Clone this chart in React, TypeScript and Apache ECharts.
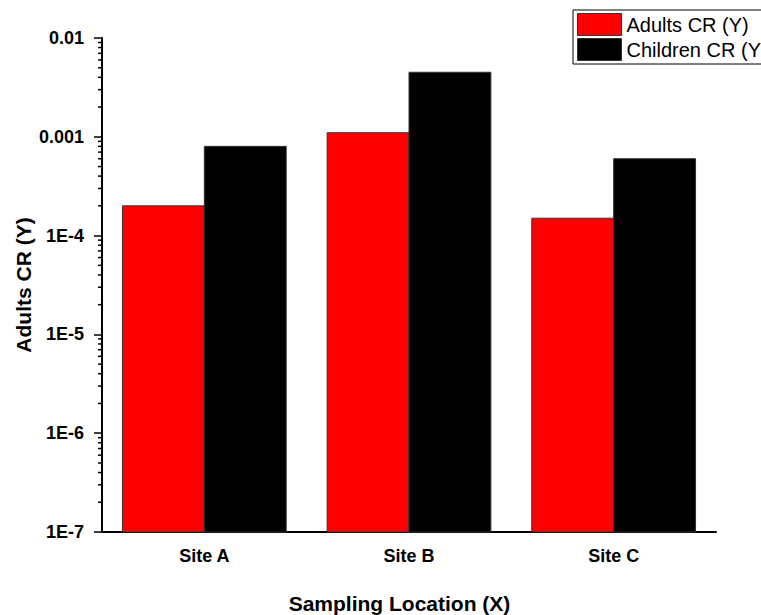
import React, { useEffect, useRef } from "react";
import * as echarts from "echarts";

const categories = ["Site A", "Site B", "Site C"];
const adultsCR = [2.0e-4, 1.1e-3, 1.5e-4];
const childrenCR = [8.0e-4, 4.5e-3, 6.0e-4];
const yMin = 1e-7;
const yMax = 0.01;
const yTickDecades = [-7, -6, -5, -4, -3];
const minorMultipliers = [2, 3, 4, 5, 6, 7, 8, 9];

const FONT = "'Liberation Sans', Arial, sans-serif";

function barSeries(name: string, values: number[], color: string, slot: number) {
  return {
    name,
    type: "custom",
    clip: false,
    itemStyle: { color, borderColor: "#333", borderWidth: 1 },
    data: values.map((v, i) => [i, v]),
    encode: { x: 0, y: 1 },
    renderItem: (params: any, api: any) => {
      const i = api.value(0);
      const v = api.value(1);
      const top = api.coord([i, v]);
      const base = api.coord([i, yMin]);
      const band = api.size([1, 0])[0];
      const bw = (band * 0.8) / 2;
      const x0 = top[0] - bw + slot * bw;
      return {
        type: "rect",
        shape: { x: x0, y: top[1], width: bw, height: base[1] - top[1] },
        style: { fill: color, stroke: "#333", lineWidth: 1 },
      };
    },
  };
}

export default function App() {
  const ref = useRef<HTMLDivElement>(null);
  useEffect(() => {
    document.body.style.margin = "0";
    if (!ref.current) return;
    const chart = echarts.init(ref.current, undefined, { renderer: "svg" });
    const minorVals: number[] = [];
    yTickDecades.forEach((d) => minorMultipliers.forEach((m) => minorVals.push(m * Math.pow(10, d))));
    chart.setOption({
      animation: false,
      backgroundColor: "#ffffff",
      textStyle: { fontFamily: FONT },
      grid: { left: 102, top: 38, right: 45, bottom: 83, containLabel: false, outerBoundsMode: "none" },
      legend: {
        data: ["Adults CR (Y)", "Children CR (Y)"],
        orient: "vertical",
        left: 573,
        top: 10,
        itemWidth: 44,
        itemHeight: 22,
        itemGap: 2,
        padding: [3, 3, 3, 4],
        borderColor: "#000",
        borderWidth: 1,
        borderRadius: 0,
        icon: "rect",
        itemStyle: { borderColor: "#333", borderWidth: 1 },
        textStyle: { fontSize: 20, color: "#000", fontFamily: FONT },
      },
      xAxis: [
        {
          type: "category",
          data: categories,
          name: "Sampling Location (X)",
          nameLocation: "middle",
          nameGap: 61,
          nameTextStyle: { fontSize: 21, fontWeight: "bold", color: "#000", fontFamily: FONT, padding: [0, 19, 0, 0] },
          axisLine: { lineStyle: { color: "#000", width: 2 } },
          axisTick: { alignWithLabel: true, length: 8, lineStyle: { color: "#000", width: 1.5 } },
          axisLabel: { fontSize: 18, fontWeight: "bold", color: "#000", fontFamily: FONT, margin: 15 },
        },
        {
          type: "category",
          data: categories,
          position: "bottom",
          axisLine: { show: false },
          axisTick: { length: 4, lineStyle: { color: "#000", width: 1.5 } },
          axisLabel: { show: false },
        },
      ],
      yAxis: {
        type: "log",
        logBase: 10,
        min: yMin,
        max: yMax,
        splitNumber: 5,
        name: "Adults CR (Y)",
        nameLocation: "middle",
        nameGap: 68,
        nameMoveOverlap: false,
        nameTextStyle: { fontSize: 21, fontWeight: "bold", color: "#000", fontFamily: FONT },
        axisLine: { show: true, lineStyle: { color: "#000", width: 2 } },
        axisTick: { show: true, length: 8, lineStyle: { color: "#000", width: 1.5 } },
        splitLine: { show: false },
        axisLabel: {
          fontSize: 18,
          fontWeight: "bold",
          color: "#000",
          fontFamily: FONT,
          margin: 18,
          formatter: (v: number) => {
            const e = Math.round(Math.log10(v));
            return e >= -3 ? Math.pow(10, e).toFixed(-e) : "1E" + e;
          },
        },
      },
      series: [
        barSeries("Adults CR (Y)", adultsCR, "#ff0000", 0),
        barSeries("Children CR (Y)", childrenCR, "#000000", 1),
        {
          name: "minorTicks",
          type: "custom",
          silent: true,
          clip: false,
          data: minorVals.map((v) => [0, v]),
          renderItem: (params: any, api: any) => {
            const y = api.coord([0, api.value(1)])[1];
            const x = params.coordSys.x;
            return {
              type: "line",
              shape: { x1: x - 4, y1: y, x2: x, y2: y },
              style: { stroke: "#000", lineWidth: 1.5 },
            };
          },
        },
      ],
    });
    return () => chart.dispose();
  }, []);
  return <div ref={ref} style={{ width: 761, height: 615 }} />;
}
